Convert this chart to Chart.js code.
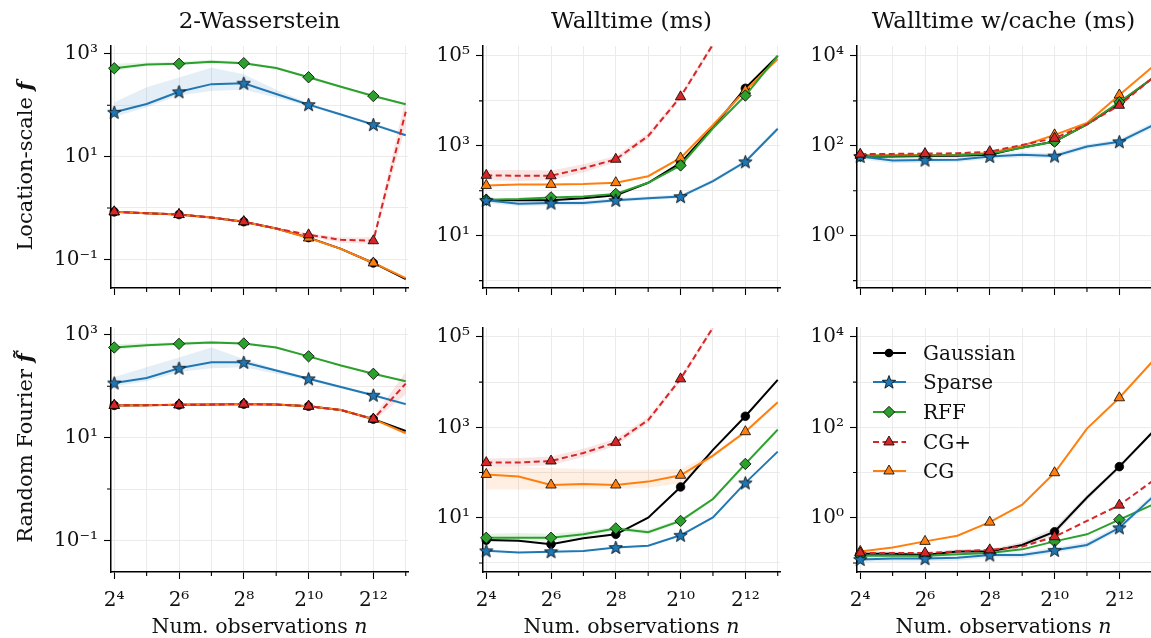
<!DOCTYPE html>
<html>
<head>
<meta charset="utf-8">
<script src="https://cdn.jsdelivr.net/npm/chart.js@4.4.0/dist/chart.umd.min.js"></script>
<style>
    body { margin: 0; width: 1151px; height: 638px; background: #fff; position: relative; overflow: hidden; font-family: 'DejaVu Serif', serif; color: #111; }
    .title { position: absolute; top: 7px; font-size: 23px; line-height: 26px; white-space: nowrap; transform: translateX(-50%); }
    .xlabel { position: absolute; top: 615px; font-size: 20.5px; line-height: 23px; white-space: nowrap; transform: translateX(-50%); }
    .ylabel { position: absolute; font-size: 21px; line-height: 24px; white-space: nowrap; transform: translate(-50%, -50%) rotate(-90deg); }
    .legend { position: absolute; left: 872px; top: 338px; font-size: 20px; }
    .legend div { height: 29.6px; display: flex; align-items: center; }
    .legend svg { margin-right: 15px; }
</style>
</head>
<body>
<script>
// sample sizes n = 2^4 ... 2^13
const N = [16, 32, 64, 128, 256, 512, 1024, 2048, 4096, 8192];
const X_TICK_EXP = [4, 5, 6, 7, 8, 9, 10, 11, 12, 13];
const X_LABEL_EXP = [4, 6, 8, 10, 12];
const METHODS = ['Gaussian', 'Sparse', 'RFF', 'CG+', 'CG'];
const COL_TITLES = ['2-Wasserstein', 'Walltime (ms)', 'Walltime w/cache (ms)'];

// Location-scale f : 2-Wasserstein
const locW2Gaussian = [0.84, 0.79, 0.745, 0.65, 0.54, 0.40, 0.265, 0.16, 0.085, 0.041];
const locW2Sparse   = [73, 106, 183, 258, 269, 166, 103, 66, 42, 26];
const locW2RFF      = [525, 624, 642, 700, 660, 530, 351, 229, 151, 105];
const locW2CGplus   = [0.84, 0.79, 0.745, 0.65, 0.54, 0.40, 0.30, 0.24, 0.23, 75];
const locW2CG       = [0.84, 0.79, 0.745, 0.65, 0.54, 0.40, 0.26, 0.16, 0.085, 0.043];
const locW2SparseHi = [115, 224, 348, 540, 400, 200, 110, 70, 45, 28];
const locW2SparseLo = [59, 92, 155, 190, 200, 142, 96, 62, 40, 25];
const locW2RFFHi    = [640, 680, 700, 770, 700, 560, 370, 240, 158, 110];
const locW2RFFLo    = [460, 590, 610, 660, 625, 505, 335, 218, 145, 100];
const locW2CGplusHi = [0.86, 0.81, 0.76, 0.66, 0.55, 0.41, 0.32, 0.27, 0.27, 140];
const locW2CGplusLo = [0.82, 0.77, 0.73, 0.64, 0.53, 0.39, 0.28, 0.21, 0.20, 40];

// Location-scale f : walltime
const locTimeGaussian = [62, 61, 61, 68, 79, 150, 415, 2600, 19000, 100000];
const locTimeSparse   = [61, 51, 53, 53, 61, 68, 74, 163, 440, 2400];
const locTimeRFF      = [63, 65, 71, 74, 85, 150, 365, 2450, 13100, 100000];
const locTimeCGplus   = [220, 215, 215, 316, 500, 1650, 12300, 180000, 2000000, 20000000];
const locTimeCG       = [131, 138, 138, 141, 151, 210, 535, 2900, 17000, 85000];
const locTimeCGplusHi = [290, 290, 280, 390, 590, 1950, 14000, 210000, 2300000, 23000000];
const locTimeCGplusLo = [170, 165, 170, 255, 430, 1420, 10800, 155000, 1700000, 17000000];
const locTimeSparseHi = [70, 58, 60, 60, 68, 75, 82, 180, 490, 2700];
const locTimeSparseLo = [53, 45, 47, 47, 55, 62, 67, 148, 400, 2150];

// Location-scale f : walltime with cache
const locCacheGaussian = [57, 58, 59, 60, 63, 92, 124, 300, 890, 3100];
const locCacheSparse   = [58, 47, 48, 49, 58, 63, 59, 96, 123, 277];
const locCacheRFF      = [60, 60, 61, 62, 66, 90, 124, 300, 940, 3100];
const locCacheCGplus   = [65, 66, 67, 68, 74, 104, 147, 300, 794, 3100];
const locCacheCG       = [61, 62, 62, 63, 69, 100, 175, 320, 1350, 5500];
const locCacheSparseHi = [68, 55, 56, 57, 66, 72, 68, 108, 140, 320];
const locCacheSparseLo = [50, 41, 42, 43, 51, 55, 52, 85, 108, 240];

// Random Fourier f~ : 2-Wasserstein
const rffW2Gaussian = [42.5, 43, 43.5, 44, 45, 44, 41, 34.5, 23, 13.5];
const rffW2Sparse   = [116, 145, 225, 293, 293, 203, 140, 97, 67, 45];
const rffW2RFF      = [570, 632, 671, 712, 681, 570, 383, 254, 175, 125];
const rffW2CGplus   = [42.5, 43, 43.5, 44, 45, 44, 41, 34.5, 23, 113];
const rffW2CG       = [42.5, 43, 43.5, 44, 45, 44, 41, 34.5, 23, 12.2];
const rffW2SparseHi = [151, 235, 365, 570, 340, 218, 150, 103, 71, 48];
const rffW2SparseLo = [100, 125, 190, 225, 235, 175, 130, 92, 63, 42];
const rffW2RFFHi    = [660, 700, 720, 770, 720, 600, 400, 265, 182, 130];
const rffW2RFFLo    = [500, 600, 640, 670, 650, 545, 368, 245, 168, 120];
const rffW2CGplusHi = [43.5, 44, 44.5, 45, 46, 45, 42, 35.5, 25, 190];
const rffW2CGplusLo = [41.5, 42, 42.5, 43, 44, 43, 40, 33.5, 21, 70];

// Random Fourier f~ : walltime
const rffTimeGaussian = [3.2, 3.1, 2.6, 3.5, 4.3, 10, 48, 317, 1760, 11200];
const rffTimeSparse   = [1.86, 1.7, 1.78, 1.85, 2.2, 2.4, 4.1, 10.2, 59, 290];
const rffTimeRFF      = [3.6, 3.6, 3.6, 4.3, 5.8, 4.8, 8.5, 26, 155, 890];
const rffTimeCGplus   = [166, 166, 180, 270, 465, 1450, 11800, 160000, 2000000, 20000000];
const rffTimeCG       = [91, 82, 53, 56, 53, 63, 87, 237, 800, 3600];
const rffTimeCGHi     = [135, 132, 126, 120, 115, 115, 120, 265, 880, 3900];
const rffTimeCGLo     = [42, 42, 42, 44, 44, 46, 58, 212, 730, 3300];
const rffTimeCGplusHi = [205, 210, 225, 335, 560, 1700, 13500, 185000, 2300000, 23000000];
const rffTimeCGplusLo = [135, 135, 145, 220, 390, 1250, 10300, 140000, 1700000, 17000000];
const rffTimeRFFHi    = [4.4, 4.6, 4.4, 5.0, 6.4, 5.4, 9.4, 28, 170, 980];
const rffTimeRFFLo    = [3.0, 3.0, 3.0, 3.7, 5.2, 4.3, 7.7, 24, 140, 810];

// Random Fourier f~ : walltime with cache
const rffCacheGaussian = [0.16, 0.16, 0.15, 0.18, 0.18, 0.25, 0.49, 2.8, 13.5, 75];
const rffCacheSparse   = [0.12, 0.125, 0.125, 0.13, 0.15, 0.15, 0.19, 0.25, 0.6, 2.75];
const rffCacheRFF      = [0.145, 0.145, 0.145, 0.155, 0.166, 0.2, 0.30, 0.43, 0.91, 1.9];
const rffCacheCGplus   = [0.166, 0.166, 0.166, 0.18, 0.195, 0.23, 0.38, 0.85, 1.9, 6.3];
const rffCacheCG       = [0.18, 0.22, 0.30, 0.40, 0.80, 1.95, 9.9, 94, 450, 2750];
const rffCacheGaussianHi = [0.18, 0.18, 0.17, 0.2, 0.2, 0.29, 0.6, 3.2, 15, 82];
const rffCacheGaussianLo = [0.14, 0.14, 0.13, 0.16, 0.16, 0.22, 0.41, 2.4, 12, 68];
const rffCacheSparseHi = [0.14, 0.145, 0.145, 0.15, 0.17, 0.17, 0.22, 0.29, 0.7, 3.2];
const rffCacheSparseLo = [0.105, 0.108, 0.108, 0.112, 0.13, 0.13, 0.165, 0.22, 0.52, 2.4];

// y-axis decades with tick marks, and those that get a label
const W2_TICKS = [-1, 0, 1, 2, 3];
const W2_LABELS = [-1, 1, 3];
const TIME_TICKS = [0, 1, 2, 3, 4, 5];
const TIME_LABELS = [1, 3, 5];
const CACHE_TICKS = [-1, 0, 1, 2, 3, 4];
const CACHE_LABELS = [0, 2, 4];

// plot-area geometry (px)
const COLS = [{ left: 111, w: 297 }, { left: 483, w: 297 }, { left: 857, w: 297 }];
const ROWS = [{ top: 43, h: 245 }, { top: 325, h: 247 }];
const X_PAD = 10;                    // gap between tick mark and x tick label
const YW = 100, XH = 55, PT = 15, PR = X_PAD + 2;
const X_MIN = Math.pow(2, 3.9), X_MAX = Math.pow(2, 13.07);
const MAJOR_TL = 7, MINOR_TL = 4;

const SUP = { '0': '⁰', '1': '¹', '2': '²', '3': '³', '4': '⁴', '5': '⁵', '6': '⁶', '7': '⁷', '8': '⁸', '9': '⁹', '-': '⁻' };
const sup = (k) => String(k).split('').map(ch => SUP[ch]).join('');

function starPoints(cx, cy, R, r) {
    const pts = [];
    for (let i = 0; i < 10; i++) {
        const a = -Math.PI / 2 + i * Math.PI / 5;
        const rad = i % 2 === 0 ? R : r;
        pts.push([cx + rad * Math.cos(a), cy + rad * Math.sin(a)]);
    }
    return pts;
}

// filled star marker (Chart.js 'star' is only an asterisk)
const starImg = document.createElement('canvas');
starImg.width = 15; starImg.height = 15;
(() => {
    const g = starImg.getContext('2d');
    g.beginPath();
    starPoints(7.5, 8, 7, 2.9).forEach(([x, y], i) => (i ? g.lineTo(x, y) : g.moveTo(x, y)));
    g.closePath();
    g.fillStyle = '#1f77b4';
    g.fill();
    g.lineWidth = 0.8;
    g.strokeStyle = '#000';
    g.stroke();
})();

const STYLE = {
    'Gaussian': { color: '#000000', marker: 'circle', r: 4.3, dash: [], order: 5 },
    'Sparse': { color: '#1f77b4', marker: starImg, r: 5, dash: [], order: 2 },
    'RFF': { color: '#2ca02c', marker: 'rectRot', r: 5.7, dash: [], order: 3 },
    'CG+': { color: '#d62728', marker: 'triangle', r: 6, dash: [6, 3.5], order: 1 },
    'CG': { color: '#ff7f0e', marker: 'triangle', r: 6, dash: [], order: 4 },
};

const panels = [
    { col: 0, row: 0, yMin: -1.558, yMax: 3.154, yTicks: W2_TICKS, yLabels: W2_LABELS,
      series: [locW2Gaussian, locW2Sparse, locW2RFF, locW2CGplus, locW2CG],
      bands: [[locW2SparseLo, locW2SparseHi, 'Sparse'], [locW2RFFLo, locW2RFFHi, 'RFF'], [locW2CGplusLo, locW2CGplusHi, 'CG+']] },
    { col: 1, row: 0, yMin: -0.165, yMax: 5.22, yTicks: TIME_TICKS, yLabels: TIME_LABELS,
      series: [locTimeGaussian, locTimeSparse, locTimeRFF, locTimeCGplus, locTimeCG],
      bands: [[locTimeCGplusLo, locTimeCGplusHi, 'CG+'], [locTimeSparseLo, locTimeSparseHi, 'Sparse']] },
    { col: 2, row: 0, yMin: -1.165, yMax: 4.22, yTicks: CACHE_TICKS, yLabels: CACHE_LABELS,
      series: [locCacheGaussian, locCacheSparse, locCacheRFF, locCacheCGplus, locCacheCG],
      bands: [[locCacheSparseLo, locCacheSparseHi, 'Sparse']] },
    { col: 0, row: 1, yMin: -1.615, yMax: 3.135, yTicks: W2_TICKS, yLabels: W2_LABELS,
      series: [rffW2Gaussian, rffW2Sparse, rffW2RFF, rffW2CGplus, rffW2CG],
      bands: [[rffW2SparseLo, rffW2SparseHi, 'Sparse'], [rffW2RFFLo, rffW2RFFHi, 'RFF'], [rffW2CGplusLo, rffW2CGplusHi, 'CG+']] },
    { col: 1, row: 1, yMin: -0.2, yMax: 5.197, yTicks: TIME_TICKS, yLabels: TIME_LABELS,
      series: [rffTimeGaussian, rffTimeSparse, rffTimeRFF, rffTimeCGplus, rffTimeCG],
      bands: [[rffTimeCGLo, rffTimeCGHi, 'CG'], [rffTimeCGplusLo, rffTimeCGplusHi, 'CG+'], [rffTimeRFFLo, rffTimeRFFHi, 'RFF']] },
    { col: 2, row: 1, yMin: -1.2, yMax: 4.197, yTicks: CACHE_TICKS, yLabels: CACHE_LABELS,
      series: [rffCacheGaussian, rffCacheSparse, rffCacheRFF, rffCacheCGplus, rffCacheCG],
      bands: [[rffCacheGaussianLo, rffCacheGaussianHi, 'Gaussian'], [rffCacheSparseLo, rffCacheSparseHi, 'Sparse']] },
];

const toPts = (arr) => N.map((n, i) => ({ x: n, y: arr[i] }));
const hexA = (hex, a) => {
    const v = parseInt(hex.slice(1), 16);
    return `rgba(${(v >> 16) & 255},${(v >> 8) & 255},${v & 255},${a})`;
};

// x ticks: even powers are "major" (long), odd powers short; y: labelled decades long
const isMajorX = (v) => X_LABEL_EXP.includes(Math.round(Math.log2(v)));

// short minor tick marks (Chart.js has a single tick length per axis)
const minorTicks = {
    id: 'minorTicks',
    afterDraw(chart, args, opts) {
        const { ctx, chartArea } = chart;
        const xs = chart.scales.x, ys = chart.scales.y;
        ctx.save();
        ctx.strokeStyle = '#000';
        ctx.lineWidth = 1.1;
        ctx.beginPath();
        X_TICK_EXP.filter(e => !X_LABEL_EXP.includes(e)).forEach(e => {
            const px = xs.getPixelForValue(Math.pow(2, e));
            ctx.moveTo(px, chartArea.bottom);
            ctx.lineTo(px, chartArea.bottom + MINOR_TL);
        });
        opts.yTicks.filter(e => !opts.yLabels.includes(e)).forEach(e => {
            const py = ys.getPixelForValue(Math.pow(10, e));
            ctx.moveTo(chartArea.left, py);
            ctx.lineTo(chartArea.left - MINOR_TL, py);
        });
        ctx.stroke();
        ctx.restore();
    },
};

panels.forEach((p) => {
    const c = COLS[p.col], r = ROWS[p.row];
    const W = c.w + YW + PR, H = r.h + PT + XH;
    const cv = document.createElement('canvas');
    cv.width = W; cv.height = H;
    cv.style.cssText = `position:absolute;left:${c.left - YW}px;top:${r.top - PT}px;width:${W}px;height:${H}px`;
    document.body.appendChild(cv);

    const datasets = [];
    p.bands.forEach(([lo, hi, name]) => {
        datasets.push({ data: toPts(hi), fill: '+1', backgroundColor: hexA(STYLE[name].color, name === 'Gaussian' ? 0.1 : 0.12),
            borderColor: 'transparent', borderWidth: 0, pointRadius: 0, order: 100 });
        datasets.push({ data: toPts(lo), fill: false, borderColor: 'transparent', borderWidth: 0, pointRadius: 0, order: 101 });
    });
    METHODS.forEach((name, k) => {
        const s = STYLE[name];
        datasets.push({
            label: name,
            data: toPts(p.series[k]),
            borderColor: s.color,
            borderWidth: 2,
            borderDash: s.dash,
            tension: 0,
            pointStyle: s.marker,
            pointRadius: N.map((n, i) => (i % 2 === 0 ? s.r : 0)),
            pointBackgroundColor: s.color,
            pointBorderColor: '#000',
            pointBorderWidth: 0.8,
            order: s.order,
            clip: { left: 10, top: 0, right: 4, bottom: 10 },
        });
    });

    new Chart(cv, {
        type: 'line',
        data: { datasets },
        plugins: [minorTicks],
        options: {
            responsive: false,
            animation: false,
            layout: { padding: { top: PT, right: PR, left: 0, bottom: 0 } },
            plugins: {
                legend: { display: false },
                tooltip: { enabled: false },
                minorTicks: { yTicks: p.yTicks, yLabels: p.yLabels },
            },
            scales: {
                x: {
                    type: 'logarithmic',
                    min: X_MIN,
                    max: X_MAX,
                    bounds: 'data',
                    afterBuildTicks: (s) => { s.ticks = X_TICK_EXP.map(e => ({ value: Math.pow(2, e) })); },
                    afterFit: (s) => { s.height = XH; },
                    ticks: {
                        autoSkip: false,
                        maxRotation: 0,
                        padding: X_PAD,
                        color: '#111',
                        font: { family: 'DejaVu Serif', size: 20 },
                        callback: (v) => {
                            const e = Math.round(Math.log2(v));
                            return p.row === 1 && X_LABEL_EXP.includes(e) ? '2' + sup(e) : '';
                        },
                    },
                    grid: {
                        color: '#ebebeb', lineWidth: 1, tickLength: MAJOR_TL, tickWidth: 1.1,
                        tickColor: (ctx) => (ctx.tick && isMajorX(ctx.tick.value) ? '#000' : 'rgba(0,0,0,0)'),
                    },
                    border: { color: '#000', width: 1.5 },
                },
                y: {
                    type: 'logarithmic',
                    min: Math.pow(10, p.yMin),
                    max: Math.pow(10, p.yMax),
                    bounds: 'data',
                    afterBuildTicks: (s) => { s.ticks = p.yTicks.map(e => ({ value: Math.pow(10, e) })); },
                    afterFit: (s) => { s.width = YW; },
                    ticks: {
                        autoSkip: false,
                        padding: 6,
                        color: '#111',
                        font: { family: 'DejaVu Serif', size: 20 },
                        callback: (v) => {
                            const e = Math.round(Math.log10(v));
                            return p.yLabels.includes(e) ? '10' + sup(e) : '';
                        },
                    },
                    grid: {
                        color: '#ebebeb', lineWidth: 1, tickLength: MAJOR_TL, tickWidth: 1.1,
                        tickColor: (ctx) => (ctx.tick && p.yLabels.includes(Math.round(Math.log10(ctx.tick.value))) ? '#000' : 'rgba(0,0,0,0)'),
                    },
                    border: { color: '#000', width: 1.5 },
                },
            },
        },
    });
});

// titles and axis labels
const addDiv = (cls, html, css) => {
    const d = document.createElement('div');
    d.className = cls;
    d.innerHTML = html;
    Object.assign(d.style, css);
    document.body.appendChild(d);
};
COLS.forEach((c, i) => {
    const cx = c.left + c.w / 2 - (i === 2 ? 2 : 0);
    addDiv('title', COL_TITLES[i], { left: cx + 'px' });
    addDiv('xlabel', 'Num. observations <i>n</i>', { left: cx + 'px' });
});
addDiv('ylabel', 'Location-scale <b><i>f</i></b>', { left: '25px', top: '166px' });
addDiv('ylabel', 'Random Fourier <b><i>f&#771;</i></b>', { left: '25px', top: '448px' });

// legend (bottom-right panel)
const markerSvg = (name) => {
    const s = STYLE[name], cx = 17, cy = 8;
    if (name === 'Gaussian') return `<circle cx="${cx}" cy="${cy}" r="4.3" fill="#000"/>`;
    let pts;
    if (name === 'Sparse') pts = starPoints(cx, cy + 0.5, 7, 2.9);
    else if (name === 'RFF') pts = [[cx, cy - 5.7], [cx + 5.7, cy], [cx, cy + 5.7], [cx - 5.7, cy]];
    else pts = [[cx, cy - 6], [cx + 5.2, cy + 3], [cx - 5.2, cy + 3]];
    return `<polygon points="${pts.map(q => q.join(',')).join(' ')}" fill="${s.color}" stroke="#000" stroke-width="0.8"/>`;
};
const leg = document.createElement('div');
leg.className = 'legend';
METHODS.forEach((name) => {
    const s = STYLE[name];
    const dash = s.dash.length ? `stroke-dasharray="${s.dash.join(' ')}"` : '';
    leg.innerHTML += `<div><svg width="36" height="16"><line x1="1" y1="8" x2="34" y2="8" stroke="${s.color}" stroke-width="2" ${dash}/>${markerSvg(name)}</svg><span>${name}</span></div>`;
});
document.body.appendChild(leg);
</script>
</body>
</html>
